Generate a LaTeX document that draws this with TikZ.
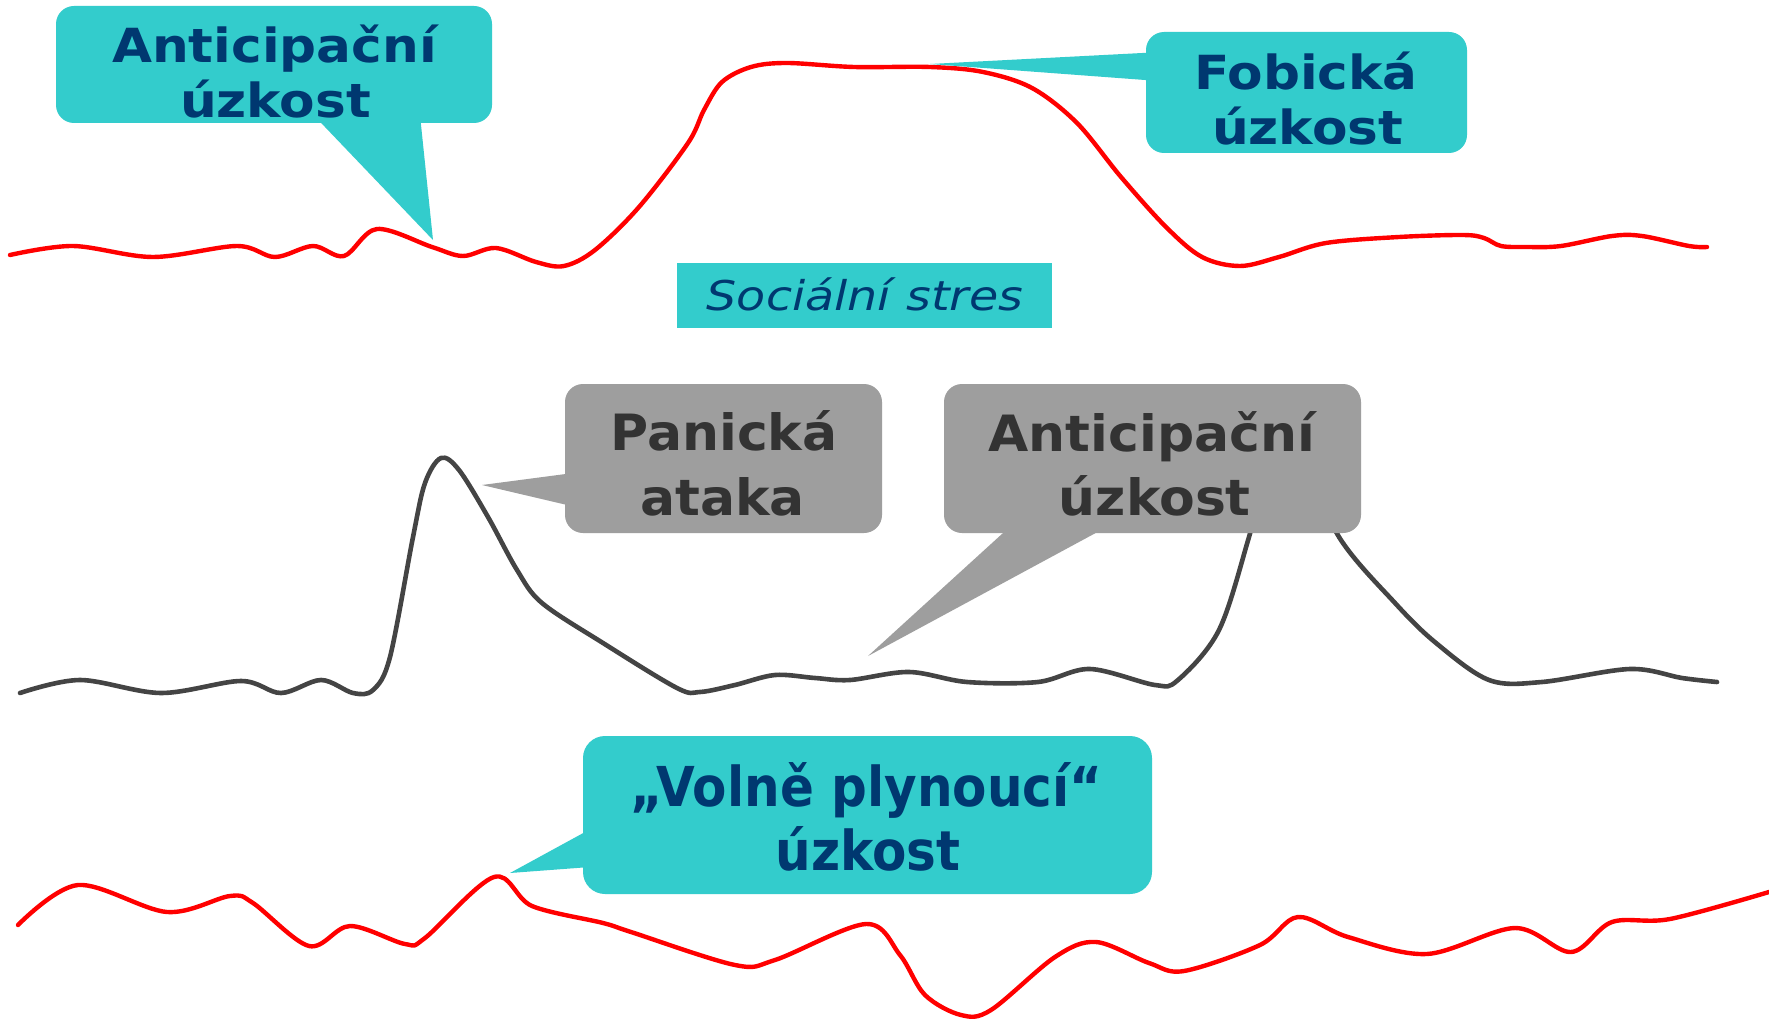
\documentclass[tikz,border=0pt]{standalone}
\usepackage{fontspec}
\usetikzlibrary{calc}
\newfontfamily\tealfont[FakeStretch=1.10]{DejaVu Sans}
\newfontfamily\grayfont[FakeStretch=1.04]{DejaVu Sans}
\newfontfamily\condfont[FakeStretch=0.91]{DejaVu Sans}
\newfontfamily\stressfont[FakeStretch=1.16]{DejaVu Sans}
\definecolor{teal1}{RGB}{51,204,204}
\definecolor{navy1}{RGB}{0,56,112}
\definecolor{boxgray}{RGB}{158,158,158}
\definecolor{txtgray}{RGB}{51,51,51}
\definecolor{curvegray}{RGB}{68,68,68}
\definecolor{curvered}{RGB}{255,0,0}
\begin{document}
\begin{tikzpicture}[x=1pt,y=-1pt,
  tealbox/.style={fill=teal1,draw=none,rounded corners=18pt,inner sep=0pt},
  graybox/.style={fill=boxgray,draw=none,rounded corners=18pt,inner sep=0pt},
  tealtail/.style={fill=teal1,draw=none},
  graytail/.style={fill=boxgray,draw=none},
  tealtext/.style={anchor=base,inner sep=0pt,text=navy1,font=\tealfont\bfseries\fontsize{47}{55}\selectfont},
  graytext/.style={anchor=base,inner sep=0pt,text=txtgray,font=\grayfont\bfseries\fontsize{50}{60}\selectfont},
  condtext/.style={anchor=base,inner sep=0pt,text=navy1,font=\condfont\bfseries\fontsize{55}{60}\selectfont},
  stresstext/.style={anchor=base,inner sep=0pt,text=navy1,font=\stressfont\itshape\fontsize{41}{48}\selectfont},
  redcurve/.style={draw=curvered,line width=4.4pt,line join=round,line cap=round},
  graycurve/.style={draw=curvegray,line width=4.6pt,line join=round,line cap=round}
]
\useasboundingbox[fill=white] (0,0) rectangle (1769,1019);

% top red curve
\draw[redcurve] plot[smooth,tension=0.55] coordinates {
 (10,255) (73,246) (153,257) (237,246) (275,257) (313,246) (344,256) (377,229)
 (432,247) (463,256) (496,248) (536,262) (564,266) (595,250) (639,207) (688,143)
 (704,110) (722,82) (751,67) (787,63) (854,67) (930,67) (983,72) (1032,88)
 (1077,123) (1121,177) (1166,227) (1202,257) (1240,266) (1279,257) (1326,243)
 (1399,237) (1463,235) (1484,238) (1501,246) (1527,247) (1561,246) (1612,236)
 (1642,236) (1689,246) (1707,247)};

% middle gray curve
\draw[graycurve] plot[smooth,tension=0.55] coordinates {
 (20,693) (80,680) (161,693) (241,681) (281,693) (321,680) (353,693) (373,690)
 (390,657) (413,537) (425,483) (441,458) (459,470) (488,517) (517,570) (542,603)
 (603,643) (677,688) (700,692) (735,685) (775,675) (815,678) (850,680) (909,672)
 (967,682) (1038,682) (1090,669) (1155,685) (1178,680) (1219,630) (1249,537)
 (1270,460) (1300,450) (1339,537) (1395,603) (1436,643) (1489,680) (1542,682)
 (1630,669) (1682,678) (1717,682)};

% bottom red curve
\draw[redcurve] plot[smooth,tension=0.55] coordinates {
 (18,925) (78,885) (167,912) (230,896) (253,903) (309,946) (350,926) (405,944)
 (425,938) (494,877) (532,906) (603,923) (631,932) (735,965) (775,960)
 (866,924) (900,955) (925,995) (961,1015) (991,1010) (1055,957) (1096,942)
 (1149,963) (1184,971) (1260,945) (1298,917) (1348,937) (1427,954) (1515,928)
 (1571,952) (1612,922) (1670,919) (1769,892)};

% tips of the callouts
\coordinate (tip1) at (433,240);
\coordinate (tip2) at (930,64);
\coordinate (tip3) at (482,485);
\coordinate (tip4) at (868,656);
\coordinate (tip5) at (510,873);

% Anticipační úzkost (top)
\node[tealbox,minimum width=436pt,minimum height=117pt] (b1) at (274,64.5) {};
\fill[tealtail] ($(b1.south west)+(256,-10)$) -- ($(b1.south west)+(364,-10)$) -- (tip1) -- cycle;
\node[tealtext] (b1a) at (274.5,63) {Anticipační};
\node[tealtext] (b1b) at (275.5,118) {úzkost};

% Fobická úzkost
\node[tealbox,minimum width=321pt,minimum height=121pt] (b2) at (1306.5,92.5) {};
\fill[tealtail] ($(b2.north west)+(10,20.5)$) -- ($(b2.north west)+(10,49)$) -- (tip2) -- cycle;
\node[tealtext] (b2a) at (1306,90) {Fobická};
\node[tealtext] (b2b) at (1307.5,145) {úzkost};

% Sociální stres
\node[fill=teal1,draw=none,inner sep=0pt,minimum width=375pt,minimum height=65pt] (b3) at (864.5,295.5) {};
\node[stresstext] (b3a) at (865,310) {Sociální stres};

% Panická ataka
\node[graybox,minimum width=317pt,minimum height=149pt] (b4) at (723.5,458.5) {};
\fill[graytail] ($(b4.north west)+(10,89)$) -- ($(b4.north west)+(10,123)$) -- (tip3) -- cycle;
\node[graytext] (b4a) at (724,450) {Panická};
\node[graytext] (b4b) at (722.6,515) {ataka};

% Anticipační úzkost (gray)
\node[graybox,minimum width=417pt,minimum height=149pt] (b5) at (1152.5,458.5) {};
\fill[graytail] ($(b5.south west)+(70,-10)$) -- ($(b5.south west)+(170,-10)$) -- (tip4) -- cycle;
\node[graytext] (b5a) at (1152,451.7) {Anticipační};
\node[graytext] (b5b) at (1154.8,515) {úzkost};

% Volně plynoucí úzkost
\node[tealbox,rounded corners=22pt,minimum width=569pt,minimum height=158pt] (b6) at (867.5,815) {};
\fill[tealtail] ($(b6.north west)+(10,92)$) -- ($(b6.north west)+(10,131)$) -- (tip5) -- cycle;
\node[condtext] (b6a) at (866.7,806.7) {„Volně plynoucí“};
\node[condtext] (b6b) at (868,870) {úzkost};
\end{tikzpicture}
\end{document}
